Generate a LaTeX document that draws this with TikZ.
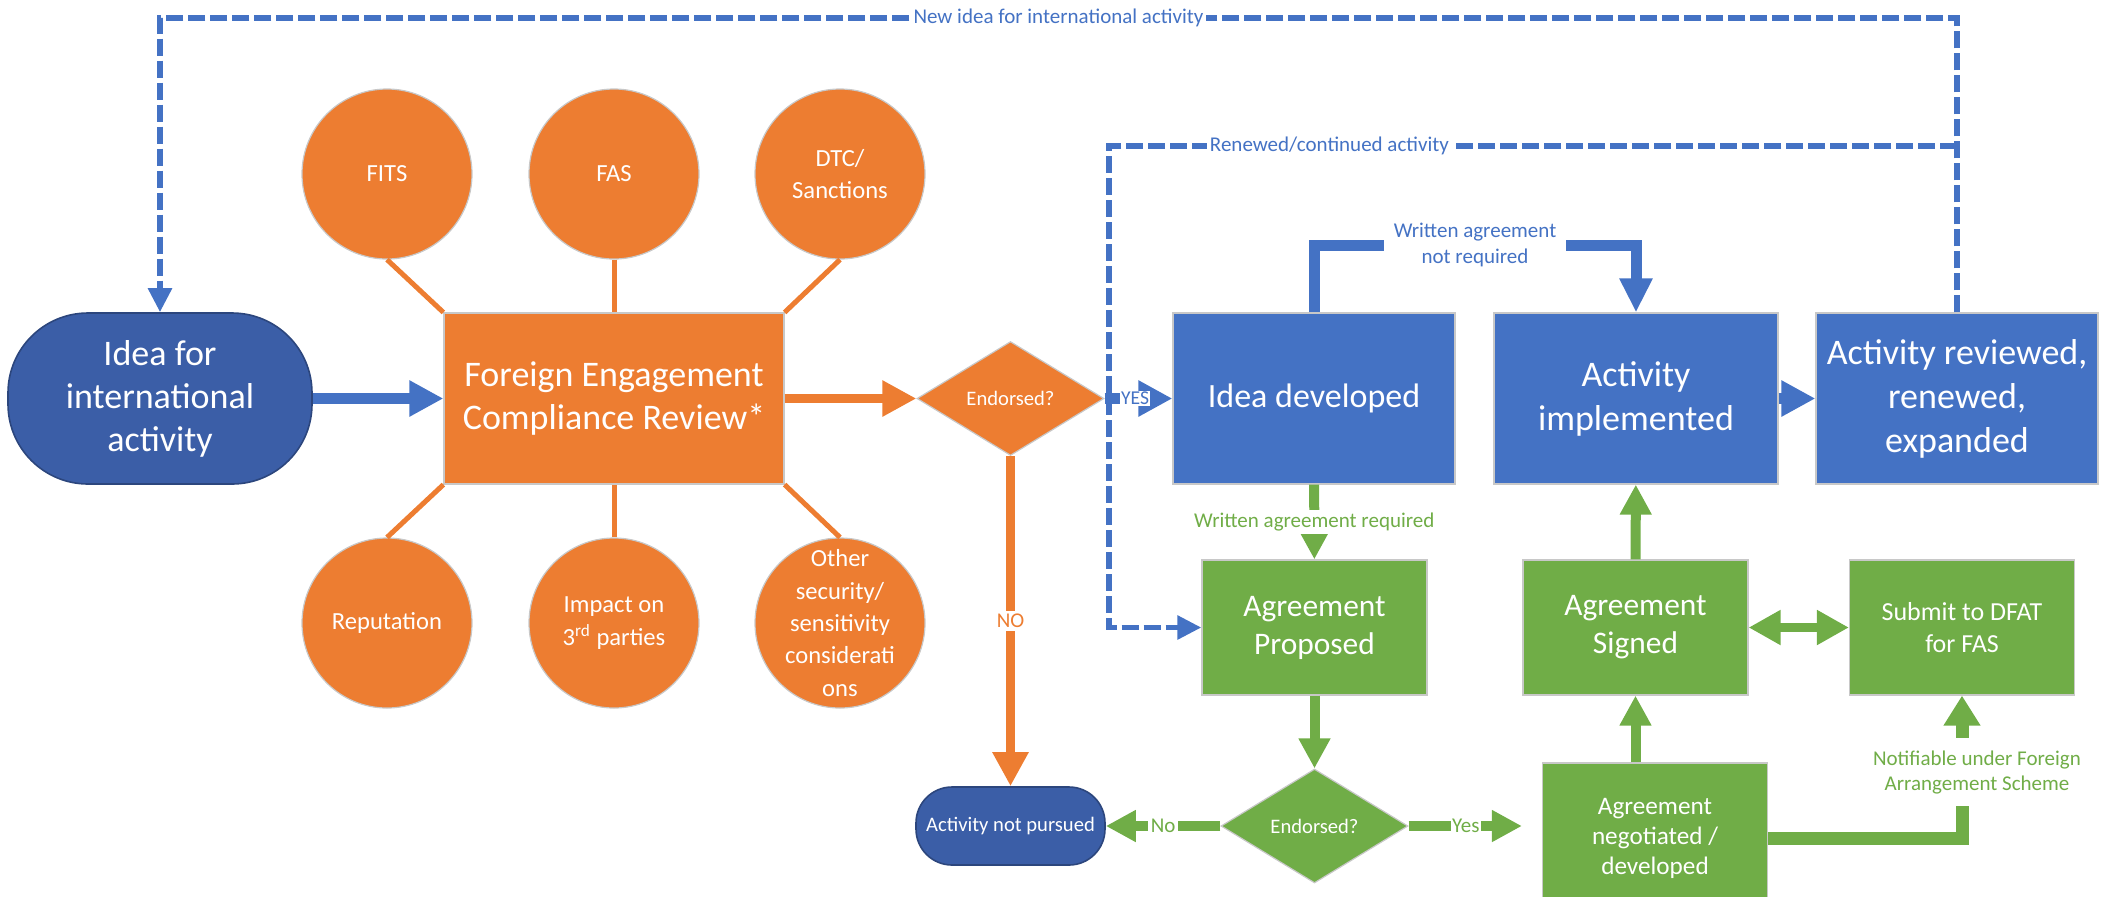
\documentclass[tikz,border=0pt]{standalone}
\usepackage{fontspec}
\setmainfont{Carlito}
\usetikzlibrary{arrows.meta,shapes.geometric}
\definecolor{orangeC}{HTML}{ED7D31}
\definecolor{blueC}{HTML}{4472C4}
\definecolor{navyC}{HTML}{3B5EA7}
\definecolor{greenC}{HTML}{70AD47}
\definecolor{edgeC}{HTML}{C8C8C8}
\newcommand{\fsz}[2]{\fontsize{#1}{#2}\selectfont}

\begin{document}
\begin{tikzpicture}[x=0.5pt,y=-0.5pt,
  box/.style={rectangle,draw=edgeC,line width=0.6pt,text=white,align=center,inner sep=0pt},
  bluebox/.style={box,fill=blueC,minimum width=141pt,minimum height=85.5pt,font=\fsz{18}{22}},
  greenbox/.style={box,fill=greenC,minimum width=112.5pt,minimum height=67.5pt},
  term/.style={rectangle,rounded corners=#1,draw=navyC!75!black,line width=0.8pt,fill=navyC,text=white,align=center,inner sep=0pt},
  circ/.style={circle,draw=edgeC,line width=0.6pt,fill=orangeC,text=white,align=center,inner sep=0pt,minimum size=85pt,font=\fsz{12.3}{16.2}},
  decide/.style={diamond,fill=#1,draw=edgeC,line width=0.6pt,text=white,inner sep=0pt,minimum width=93.5pt,minimum height=57pt,font=\fsz{10.3}{12}},
  lbl/.style={fill=white,inner sep=1.5pt,align=center,font=\fsz{10.5}{13}},
  oline/.style={draw=orangeC,line width=2.5pt},
  oarr/.style={draw=orangeC,line width=4.5pt,-{Triangle[length=17pt,width=17pt]}},
  barr/.style={draw=blueC,line width=5.5pt,-{Triangle[length=17pt,width=17pt]}},
  garr/.style={draw=greenC,line width=5pt,-{Triangle[length=15pt,width=15pt]}},
  gdbl/.style={draw=greenC,line width=4.5pt,{Triangle[length=16pt,width=16.5pt]}-{Triangle[length=16pt,width=16.5pt]}},
  dline/.style={draw=blueC,line width=2.8pt,dash pattern=on 8.5pt off 2.5pt,-{Triangle[length=12pt,width=11.5pt]}}
]
\useasboundingbox (0,0) rectangle (2106,896);

\node[term=40pt,minimum width=152pt,minimum height=85.5pt,font=\fsz{18}{21.5}] (idea) at (160,398.5) {Idea for\\international\\activity};
\node[box,fill=orangeC,minimum width=170pt,minimum height=85.5pt,font=\fsz{18}{21.5}] (review) at (614,398.5) {Foreign Engagement\\Compliance Review*};

\node[circ] (fits) at (387,174) {FITS};
\node[circ] (fas) at (614,174) {FAS};
\node[circ] (dtc) at (840,174) {DTC/\\Sanctions};
\node[circ] (reput) at (387,623) {Reputation};
\node[circ] (impact) at (614,623) {Impact on\\3\textsuperscript{rd} parties};
\node[circ] (other) at (840,623) {};
\node[text=white,align=center,inner sep=0pt,font=\fsz{12.3}{16.2}] (othertext) at (other) {Other\\security/\\sensitivity\\considerati\\ons};

\draw[oline] (fits.south) -- (review.north west);
\draw[oline] (fas) -- (review);
\draw[oline] (dtc.south) -- (review.north east);
\draw[oline] (reput.north) -- (review.south west);
\draw[oline] (impact) -- (review);
\draw[oline] (other.north) -- (review.south east);

\node[decide=orangeC] (endorse1) at (1010.5,398.5) {Endorsed?};
\node[term=18pt,minimum width=94.5pt,minimum height=39pt,font=\fsz{10.3}{12}] (notpursued) at (1010.5,826) {Activity not pursued};

\node[bluebox,font=\fsz{17}{21}] (ideadev) at (1314,398.5) {Idea developed};
\node[bluebox,minimum width=142pt] (actimpl) at (1636,398.5) {Activity\\implemented};
\node[bluebox] (actrev) at (1957,398.5) {Activity reviewed,\\renewed,\\expanded};

\node[greenbox,font=\fsz{15.7}{19}] (agrprop) at (1314.5,627.5) {Agreement\\Proposed};
\node[greenbox,font=\fsz{15.7}{19}] (agrsign) at (1635.5,627.5) {Agreement\\Signed};
\node[greenbox,font=\fsz{13}{16}] (submit) at (1962,627.5) {Submit to DFAT\\for FAS};
\node[decide=greenC] (endorse2) at (1314.5,826) {Endorsed?};
\node[greenbox,minimum height=75pt,font=\fsz{12.6}{15}] (agrneg) at (1655,838) {Agreement\\negotiated /\\developed};

\draw[barr] (idea) -- (review);
\draw[oarr] (review) -- (endorse1);
\draw[barr] (endorse1) -- node[pos=0.45,lbl,inner sep=0.5pt,text=blueC,font=\fsz{9.8}{12}]{YES} (ideadev);
\draw[oarr] (endorse1) -- node[lbl,text=orangeC]{NO} (notpursued);
\draw[barr,-{Triangle[length=17pt,width=15.5pt]}] (ideadev.north) -- ++(0,-67) -| node[pos=0.25,lbl,inner xsep=5pt,text=blueC]{Written agreement\\not required} (actimpl.north);
\draw[barr] (actimpl) -- (actrev);

\draw[garr] (ideadev) -- node[lbl,text=greenC]{Written agreement required} (agrprop);
\draw[garr] (agrprop) -- (endorse2);
\draw[garr] (endorse2) -- node[lbl,text=greenC]{No} (notpursued);
\draw[garr,shorten >=10pt] (endorse2) -- node[pos=0.43,lbl,inner sep=0.5pt,text=greenC]{Yes} (endorse2 -| agrneg.west);
\draw[garr] (agrneg.north -| agrsign) -- (agrsign);
\draw[garr] (agrsign) -- (actimpl);
\draw[gdbl] (agrsign) -- (submit);
\draw[garr,line width=6.5pt,-{Triangle[length=15pt,width=17.5pt]}] (agrneg.east) -| (submit.south);
\node[lbl,inner ysep=6pt,text=greenC,font=\fsz{10.5}{12.5}] (notif) at (1977,772) {Notifiable under Foreign\\Arrangement Scheme};

\coordinate (newtop) at (160,18);
\draw[dline] (actrev.north) |- node[pos=0.75,lbl,text=blueC]{New idea for international activity} (newtop) -- (idea.north);
\coordinate (renew) at (1957,146);
\coordinate (renewc) at (1109,146);
\draw[dline] (renew) -- node[pos=0.74,lbl,text=blueC]{Renewed/continued activity} (renewc) |- (agrprop.west);
\end{tikzpicture}
\end{document}
